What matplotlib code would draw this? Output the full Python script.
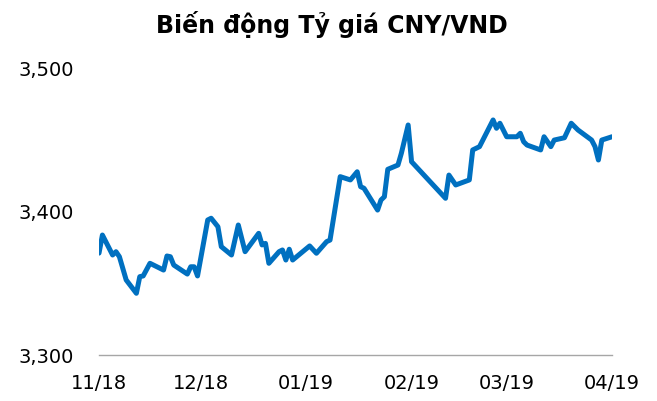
import matplotlib
matplotlib.use("Agg")
import matplotlib.pyplot as plt
import matplotlib.dates as mdates
import numpy as np

plt.rcParams['font.family'] = ['DejaVu Sans']

title = "Biến động Tỷ giá CNY/VND"

dates = [
    "2018-11-01", "2018-11-02", "2018-11-05", "2018-11-06", "2018-11-07", "2018-11-09",
    "2018-11-12", "2018-11-13", "2018-11-14", "2018-11-16", "2018-11-20", "2018-11-21",
    "2018-11-22", "2018-11-23", "2018-11-27", "2018-11-28", "2018-11-29", "2018-11-30",
    "2018-12-03", "2018-12-04", "2018-12-06", "2018-12-07", "2018-12-10", "2018-12-12",
    "2018-12-14", "2018-12-18", "2018-12-19", "2018-12-20", "2018-12-21", "2018-12-24",
    "2018-12-25", "2018-12-26", "2018-12-27", "2018-12-28", "2019-01-02", "2019-01-04",
    "2019-01-07", "2019-01-08", "2019-01-11", "2019-01-14", "2019-01-16", "2019-01-17",
    "2019-01-18", "2019-01-22", "2019-01-23", "2019-01-24", "2019-01-25", "2019-01-28",
    "2019-01-29", "2019-01-31", "2019-02-01", "2019-02-11", "2019-02-12", "2019-02-14",
    "2019-02-18", "2019-02-19", "2019-02-21", "2019-02-25", "2019-02-26", "2019-02-27",
    "2019-03-01", "2019-03-04", "2019-03-05", "2019-03-06", "2019-03-07", "2019-03-11",
    "2019-03-12", "2019-03-14", "2019-03-15", "2019-03-18", "2019-03-20", "2019-03-22",
    "2019-03-26", "2019-03-27", "2019-03-28", "2019-03-29", "2019-04-01",
]

rates = [
    3371.0, 3383.6, 3369.7, 3372.0, 3368.5, 3352.3,
    3343.0, 3354.6, 3355.1, 3363.9, 3359.2, 3369.0,
    3368.5, 3362.7, 3356.4, 3361.5, 3361.5, 3355.1,
    3394.1, 3395.3, 3389.4, 3375.5, 3369.7, 3390.6,
    3372.0, 3384.8, 3376.7, 3377.8, 3363.9, 3372.0,
    3373.2, 3366.2, 3373.7, 3366.2, 3376.0, 3370.9,
    3379.0, 3380.1, 3424.3, 3422.0, 3427.7, 3417.3,
    3416.2, 3401.0, 3408.0, 3410.3, 3429.4, 3432.4,
    3440.6, 3460.3, 3434.7, 3409.2, 3425.4, 3418.5,
    3422.0, 3442.9, 3445.2, 3463.8, 3458.0, 3461.5,
    3452.1, 3452.1, 3454.5, 3448.6, 3446.3, 3442.9,
    3452.1, 3445.2, 3449.8, 3451.4, 3461.5, 3456.8,
    3449.8, 3445.2, 3435.9, 3449.8, 3452.1,
]

month_ticks = ["2018-11-01", "2018-12-01", "2019-01-01", "2019-02-01", "2019-03-01", "2019-04-01"]
y_ticks = [3300, 3400, 3500]

x = np.array(dates, dtype="datetime64[D]")
y = np.array(rates)

fig = plt.figure(figsize=(6.57, 4.01), dpi=100)
ax = fig.add_axes([0.1507, 0.1147, 0.7808, 0.7157])

ax.plot(x, y, color="#0070C0", lw=3.6, solid_joinstyle="round", solid_capstyle="round")

ax.set_xlim(np.datetime64(month_ticks[0]), np.datetime64(month_ticks[-1]))
ax.set_ylim(y_ticks[0], y_ticks[-1])
ax.set_yticks(y_ticks)
ax.set_yticklabels([f"{v:,}" for v in y_ticks])
ax.set_xticks(np.array(month_ticks, dtype="datetime64[D]"))
ax.xaxis.set_major_formatter(mdates.DateFormatter("%m/%y"))

for s in ["top", "right", "left"]:
    ax.spines[s].set_visible(False)
ax.spines["bottom"].set_color("#A6A6A6")
ax.spines["bottom"].set_linewidth(1.0)
ax.tick_params(axis="both", length=0, labelsize=14, colors="black")
ax.tick_params(axis="y", pad=18)
ax.tick_params(axis="x", pad=14)

fig.text(0.505, 0.938, title, ha="center", va="center", fontsize=17, fontweight="bold")

fig.savefig("out.png", dpi=100)
